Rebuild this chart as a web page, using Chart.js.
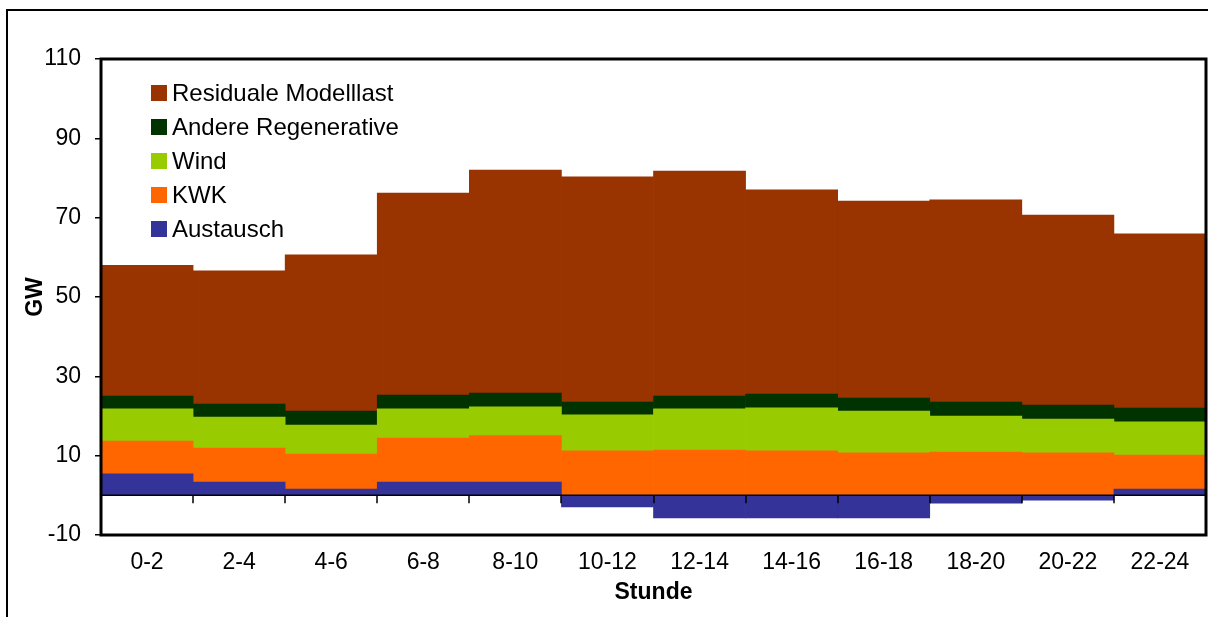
<!DOCTYPE html>
<html>
<head>
<meta charset="utf-8">
<script src="https://cdn.jsdelivr.net/npm/chart.js@4.4.0/dist/chart.umd.min.js"></script>
<style>
  html, body { margin: 0; padding: 0; background: #fff; overflow: hidden; }
  #wrap { position: relative; width: 1208px; height: 617px; }
  #frame { position: absolute; left: 6px; top: 9px; width: 1300px; height: 700px; border: 2px solid #000; }
  canvas { position: absolute; left: 0; top: 0; }
</style>
</head>
<body>
<div id="wrap">
  <div id="frame"></div>
  <canvas id="chart" width="1208" height="617"></canvas>
</div>
<script>
// Stundenblöcke
const stunden = ['0-2', '2-4', '4-6', '6-8', '8-10', '10-12', '12-14', '14-16', '16-18', '18-20', '20-22', '22-24'];

// GW je Block
const austausch = [5.4, 3.35, 1.6, 3.35, 3.35, -2.95, -5.7, -5.7, -5.7, -1.95, -1.2, 1.6];
const kwk       = [8.3, 8.55, 8.8, 11.1, 11.7, 11.2, 11.4, 11.2, 10.7, 10.9, 10.7, 8.55];
const wind      = [8.1, 7.85, 7.3, 7.35, 7.25, 9.1, 10.4, 10.85, 10.55, 9.1, 8.55, 8.35];
const andereReg = [3.2, 3.25, 3.55, 3.5, 3.5, 3.2, 3.2, 3.5, 3.25, 3.5, 3.5, 3.5];
const residual  = [33.0, 33.6, 39.35, 50.9, 56.2, 56.8, 56.75, 51.45, 49.7, 51.0, 47.9, 43.9];

const yTicks = [-10, 10, 30, 50, 70, 90, 110];

const schrift = "'Liberation Sans', Arial, sans-serif";
const chart = document.querySelector("#chart").getContext('2d');

const rahmen = {
  id: 'rahmen',
  afterDatasetsDraw(c) {
    const {ctx, chartArea: a, scales: {x, y}} = c;
    const y0 = y.getPixelForValue(0);
    const w = x.getPixelForValue(1) - x.getPixelForValue(0);
    ctx.save();
    ctx.strokeStyle = '#000';
    ctx.lineWidth = 1.5;
    ctx.beginPath();
    ctx.moveTo(a.left, y0);
    ctx.lineTo(a.right, y0);
    for (let i = 1; i < stunden.length; i++) {
      const px = Math.round(x.getPixelForValue(i) - w / 2);
      ctx.moveTo(px, y0);
      ctx.lineTo(px, y0 + 8);
    }
    ctx.stroke();
    ctx.lineWidth = 3;
    ctx.strokeRect(a.left, a.top, a.right - a.left, a.bottom - a.top);
    ctx.restore();
  },
  afterDraw(c) {
    // Legende im Diagramm, oberste Reihe zuerst
    const ctx = c.ctx;
    const sets = c.data.datasets.slice().reverse();
    ctx.save();
    ctx.font = '24px ' + schrift;
    ctx.textBaseline = 'middle';
    ctx.textAlign = 'left';
    sets.forEach((ds, i) => {
      const cy = 93 + i * 34;
      ctx.fillStyle = ds.backgroundColor;
      ctx.fillRect(151, cy - 8, 16, 16);
      ctx.fillStyle = '#000';
      ctx.fillText(ds.label, 172, cy + 1);
    });
    ctx.restore();
  }
};

new Chart(chart, {
  type: 'bar',
  data: {
    labels: stunden,
    datasets: [
      { label: 'Austausch', data: austausch, backgroundColor: '#333399' },
      { label: 'KWK', data: kwk, backgroundColor: '#FF6600' },
      { label: 'Wind', data: wind, backgroundColor: '#99CC00' },
      { label: 'Andere Regenerative', data: andereReg, backgroundColor: '#003300' },
      { label: 'Residuale Modelllast', data: residual, backgroundColor: '#993300' }
    ]
  },
  options: {
    responsive: false,
    animation: false,
    categoryPercentage: 1,
    barPercentage: 1,
    borderWidth: 0,
    layout: { padding: { top: 59, right: 2, left: 0, bottom: 0 } },
    plugins: {
      legend: { display: false },
      tooltip: { enabled: false }
    },
    scales: {
      x: {
        stacked: true,
        grid: { display: false, drawTicks: false, tickLength: 0 },
        border: { display: false },
        ticks: { color: '#000', padding: 14, font: { family: schrift, size: 23 }, maxRotation: 0 },
        title: { display: true, text: 'Stunde', color: '#000', padding: { top: 0, bottom: 11 },
                 font: { family: schrift, size: 23, weight: 'bold' } },
        afterFit: s => { s.height = 82; }
      },
      y: {
        stacked: true,
        min: -10,
        max: 110,
        afterBuildTicks: s => { s.ticks = yTicks.map(v => ({ value: v })); },
        grid: { drawOnChartArea: false, drawTicks: true, tickLength: 6, color: '#000', lineWidth: 1.5 },
        border: { display: false },
        ticks: { color: '#000', padding: 14, font: { family: schrift, size: 23 } },
        title: { display: true, text: 'GW', color: '#000', padding: { top: 22, bottom: 0 },
                 font: { family: schrift, size: 23, weight: 'bold' } },
        afterFit: s => { s.width = 101; }
      }
    }
  },
  plugins: [rahmen]
});
</script>
</body>
</html>
